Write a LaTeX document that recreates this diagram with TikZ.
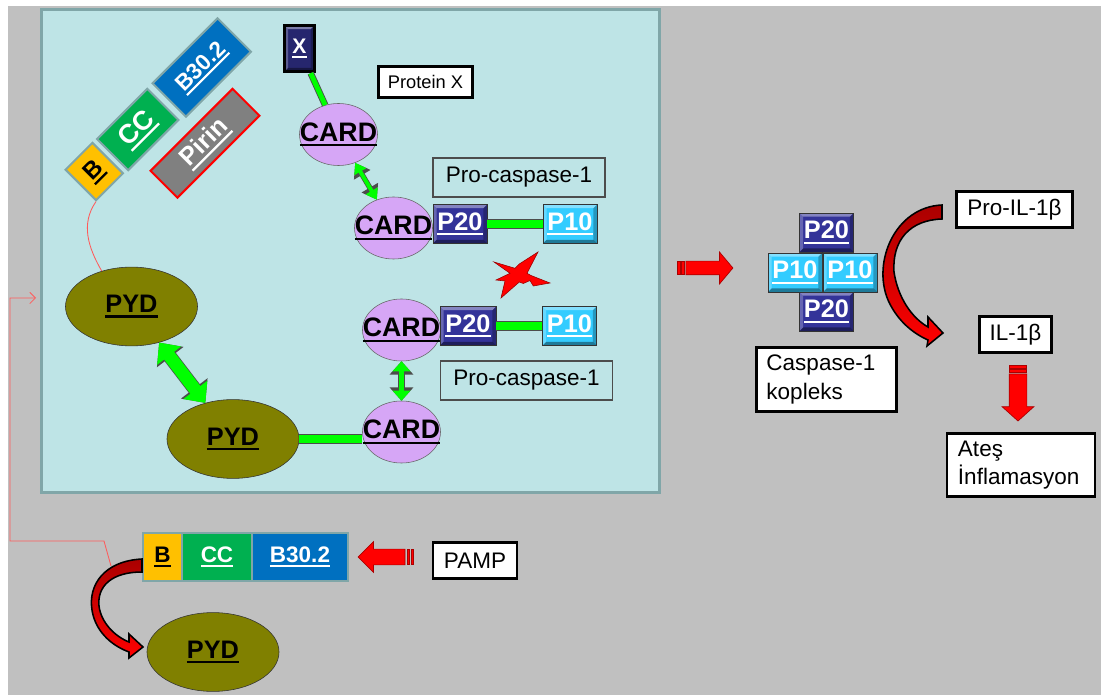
\documentclass[tikz,border=0pt]{standalone}
\usepackage{fontspec}
\setmainfont{Liberation Sans}
\usetikzlibrary{shapes.geometric, shapes.arrows, arrows.meta, positioning, calc}

\definecolor{bggray}{RGB}{192,192,192}
\definecolor{panelfill}{RGB}{190,228,230}
\definecolor{panelline}{RGB}{128,166,168}
\definecolor{lilac}{RGB}{214,166,246}
\definecolor{pydolive}{RGB}{128,128,0}
\definecolor{pnavy}{RGB}{51,51,153}
\definecolor{xnavy}{RGB}{38,38,110}
\definecolor{pcyan}{RGB}{51,204,255}
\definecolor{bdyellow}{RGB}{255,192,0}
\definecolor{ccgreen}{RGB}{0,176,80}
\definecolor{b30blue}{RGB}{0,112,192}
\definecolor{limegreen}{RGB}{0,255,0}
\definecolor{darkred}{RGB}{170,0,0}
\definecolor{linkred}{RGB}{255,90,90}

% underlined label that takes no width
\newcommand\ulab[1]{\makebox[0pt]{\setbox0=\hbox{#1}\rlap{\rule[-0.2em]{\wd0}{0.09em}}\box0}}

\begin{document}
\begin{tikzpicture}[
  x=0.025cm, y=-0.025cm,
  font=\fontsize{16}{20}\selectfont,
  bevel/.style={path picture={
    \fill[white, opacity=0.4] (path picture bounding box.north west) -- (path picture bounding box.north east)
      -- ([shift={(-2.5pt,-2.5pt)}]path picture bounding box.north east) -- ([shift={(2.5pt,-2.5pt)}]path picture bounding box.north west) -- cycle;
    \fill[white, opacity=0.25] (path picture bounding box.north west) -- (path picture bounding box.south west)
      -- ([shift={(2.5pt,2.5pt)}]path picture bounding box.south west) -- ([shift={(2.5pt,-2.5pt)}]path picture bounding box.north west) -- cycle;
    \fill[black, opacity=0.4] (path picture bounding box.south west) -- (path picture bounding box.south east)
      -- ([shift={(-2.5pt,2.5pt)}]path picture bounding box.south east) -- ([shift={(2.5pt,2.5pt)}]path picture bounding box.south west) -- cycle;
    \fill[black, opacity=0.25] (path picture bounding box.north east) -- (path picture bounding box.south east)
      -- ([shift={(-2.5pt,2.5pt)}]path picture bounding box.south east) -- ([shift={(-2.5pt,-2.5pt)}]path picture bounding box.north east) -- cycle;
  }},
  panel/.style={fill=panelfill, draw=panelline, line width=2.1pt},
  card/.style={ellipse, draw=black!60, fill=lilac, minimum width=1.95cm, minimum height=1.55cm, inner sep=0pt, font=\bfseries\fontsize{19}{19}\selectfont},
  pyd/.style={ellipse, draw=black!80, fill=pydolive, minimum width=3.3cm, minimum height=1.97cm, inner sep=0pt, font=\bfseries\fontsize{18}{18}\selectfont},
  pbox/.style={draw=black!80, inner sep=0pt, minimum width=1.35cm, minimum height=0.975cm, text=white, font=\bfseries\fontsize{18}{18}\selectfont, bevel},
  p20/.style={pbox, fill=pnavy},
  p10/.style={pbox, fill=pcyan},
  dom/.style={draw=panelline, line width=1.4pt, inner sep=0pt, text=white, font=\bfseries\fontsize{16}{16}\selectfont},
  labelbox/.style={draw=black, line width=1.6pt, fill=white, inner sep=0pt},
  procbox/.style={draw=black!70, line width=0.8pt, inner sep=0pt, minimum width=4.3cm, minimum height=0.975cm},
  gline/.style={draw=limegreen, line width=#1, preaction={draw=black!70, line width=#1+1.2pt}},
  gdouble/.style n args={3}{draw=limegreen, line width=#1,
    {Triangle[width=0pt #2, length=0pt #3]}-{Triangle[width=0pt #2, length=0pt #3]},
    preaction={draw=black!70, line width=#1+1pt}},
  blockarrow/.style={single arrow, fill=red, draw=darkred, line width=0.5pt},
  stripe/.style={fill=red, draw=darkred, line width=0.4pt},
  crescent/.style={draw=black, line width=1.1pt, top color=darkred, bottom color=red},
  redlink/.style={draw=linkred, line width=0.6pt}
]

% BACKGROUND
\fill[white] (0,0) rectangle (1101,695);
\fill[bggray] (8,6) rectangle (1101,695);
\draw[panel] (41.5,9.5) rectangle (659.5,492.5);

% NLRP3 DOMAINS (tilted)
\node[dom, fill=bdyellow, text=black, rotate=45, minimum width=0.95cm, minimum height=1.075cm, font=\bfseries\fontsize{17}{17}\selectfont] (brot) at (94.25,171.5) {\ulab{B}};
\node[dom, fill=ccgreen, rotate=45, minimum width=1.775cm, minimum height=1.1cm, font=\bfseries\fontsize{19}{19}\selectfont] (ccrot) at (137.75,129.5) {\ulab{CC}};
\node[dom, fill=b30blue, rotate=45, minimum width=2.3cm, minimum height=1.18cm, font=\bfseries\fontsize{16}{16}\selectfont] (b30rot) at (201.75,67.5) {\ulab{B30.2}};
\node[dom, fill=gray, draw=red, rotate=45, minimum width=2.9cm, minimum height=0.95cm, font=\bfseries\fontsize{18}{18}\selectfont] (pirin) at (205,143.25) {\ulab{Pirin}};

% PROTEIN X
\node[draw=black, line width=2.4pt, fill=xnavy, bevel, minimum width=0.75cm, minimum height=1.15cm, inner sep=0pt, text=white, font=\bfseries\fontsize{15}{15}\selectfont] (xbox) at (299.5,48.5) {\ulab{X}};
\node[labelbox, minimum width=2.35cm, minimum height=0.775cm, font=\fontsize{13}{13}\selectfont] (protx) at (425.5,82) {Protein X};

% CARD DOMAINS
\node[card] (card1) at (338.5,134.5) {\ulab{CARD}};
\node[card] (card2) at (393.5,228) {\ulab{CARD}};
\node[card] (card3) at (401.5,330) {\ulab{CARD}};
\node[card] (card4) at (401.5,432) {\ulab{CARD}};

% PRO-CASPASE-1
\node[p20] (p20a) at (460,224) {\ulab{P20}};
\node[p10] (p10a) at (570,224) {\ulab{P10}};
\node[p20, minimum width=1.4cm] (p20b) at (468,326) {\ulab{P20}};
\node[p10] (p10b) at (569.5,326) {\ulab{P10}};
\node[procbox] (proc1) at (519,177.5) {Pro-caspase-1};
\node[procbox] (proc2) at (526.5,380.5) {Pro-caspase-1};

% PYD DOMAINS
\node[pyd] (pyd1) at (131.5,306.5) {\ulab{PYD}};
\node[pyd] (pyd2) at (233,439) {\ulab{PYD}};

% cleavage bolt
\filldraw[fill=red, draw=red!60!black, line width=0.4pt]
  (494,262) -- (515,268.3) -- (519.3,264) -- (538,252) -- (527,273.3) -- (531,275.5) -- (550,283)
  -- (533.3,286) -- (530,280.5) -- (523.3,283.5) -- (519.3,282) -- (501,298) -- (505,281)
  -- (496,280) -- (510,273.3) -- cycle;

% links inside the panel
\draw[gline=3.5pt] (xbox) -- (card1);
\draw[gdouble={2.8pt}{3.4}{2.6}] (card1) -- (card2);
\draw[gline=5.6pt] (p20a) -- (p10a);
\draw[gline=5.6pt] (p20b) -- (p10b);
\draw[gdouble={3.3pt}{3.8}{2.2}] (card3) -- (card4);
\draw[gdouble={9pt}{2.3}{1.3}] (pyd1) -- (pyd2);
\draw[gline=5.6pt] (pyd2.east) -- (pyd2.east -| card4.west);
\draw[redlink] (brot.south west) to[out=235, in=120] (pyd1.130);

% CASPASE-1 COMPLEX
\node[blockarrow, minimum height=1.175cm, inner sep=0.1625cm, single arrow head extend=0.225cm, single arrow tip angle=100] (rarr) at (706.5,268) {};
\fill[stripe] ($(rarr.tail)+(-8,-6.5)$) rectangle ++(2.5,13);
\fill[stripe] ($(rarr.tail)+(-4,-6.5)$) rectangle ++(2.5,13);

\node[p20] (cp20t) at (826.5,232.5) {\ulab{P20}};
\node[p10] (cp10l) at (795,272.5) {\ulab{P10}};
\node[p10] (cp10r) at (850,272.5) {\ulab{P10}};
\node[p20] (cp20b) at (826.5,311.5) {\ulab{P20}};
\node[labelbox, text width=3.0cm, inner xsep=0.25cm, align=left, minimum height=1.6cm] (casp) at (826.5,379.5) {Caspase-1\\kopleks};

% IL-1 BETA
\node[labelbox, minimum width=2.9cm, minimum height=0.9cm] (proil) at (1014.5,209.5) {Pro-IL-1β};
\node[labelbox, minimum width=1.8cm, minimum height=0.9cm] (ilb) at (1015.5,334.5) {IL-1β};
\node[labelbox, text width=3.15cm, inner xsep=0.28cm, align=left, minimum height=1.575cm] (ates) at (1021,465) {Ateş\\İnflamasyon};

\path[crescent] (942,205) .. controls (895,207) and (872,262) .. (888,300) .. controls (896,318) and (910,332) .. (928,340)
  -- (927,346) -- (943,333) -- (928,317) -- (928,327)
  .. controls (912,318) and (898,298) .. (894,272) .. controls (892,240) and (910,220) .. (942,219) -- cycle;

\node[blockarrow, shape border rotate=270, minimum height=1.175cm, inner sep=0.2125cm, single arrow head extend=0.175cm, single arrow tip angle=96] (darr) at (1018,393.5) {};
\fill[stripe] ($(darr.tail)+(-8.5,-8)$) rectangle ++(17,2.5);
\fill[stripe] ($(darr.tail)+(-8.5,-4)$) rectangle ++(17,2.5);

% PAMP ACTIVATION
\node[dom, fill=bdyellow, text=black, minimum width=0.975cm, minimum height=1.2cm] (bB) at (162.5,557) {\ulab{B}};
\node[dom, fill=ccgreen, minimum width=1.75cm, minimum height=1.2cm] (bCC) at (217,557) {\ulab{CC}};
\node[dom, fill=b30blue, minimum width=2.4cm, minimum height=1.2cm] (bB30) at (300,557) {\ulab{B30.2}};
\node[labelbox, minimum width=2.1cm, minimum height=0.9cm] (pamp) at (475,560.5) {PAMP};
\node[pyd] (pyd3) at (213,652) {\ulab{PYD}};

\node[blockarrow, shape border rotate=180, minimum height=1.175cm, inner sep=0.1875cm, single arrow head extend=0.1875cm, single arrow tip angle=90] (larr) at (385.5,557) {};
\fill[stripe] ($(larr.tail)+(1.5,-7.5)$) rectangle ++(2.5,15);
\fill[stripe] ($(larr.tail)+(5.5,-7.5)$) rectangle ++(2.5,15);

\coordinate (linkstart) at (111,566);
\coordinate (linkend) at (36,298);
\draw[redlink, -{Straight Barb[length=4pt, width=8pt]}] (linkstart) -- (104,541) -- (10,541) |- (linkend);

\path[crescent] (142,559) .. controls (104,561) and (88,585) .. (92,610) .. controls (95,630) and (110,645) .. (129,652)
  -- (129,658) -- (143,647) -- (129,634) -- (129,642)
  .. controls (114,636) and (101,622) .. (99,606) .. controls (97,586) and (112,572) .. (142,572) -- cycle;

\end{tikzpicture}
\end{document}
